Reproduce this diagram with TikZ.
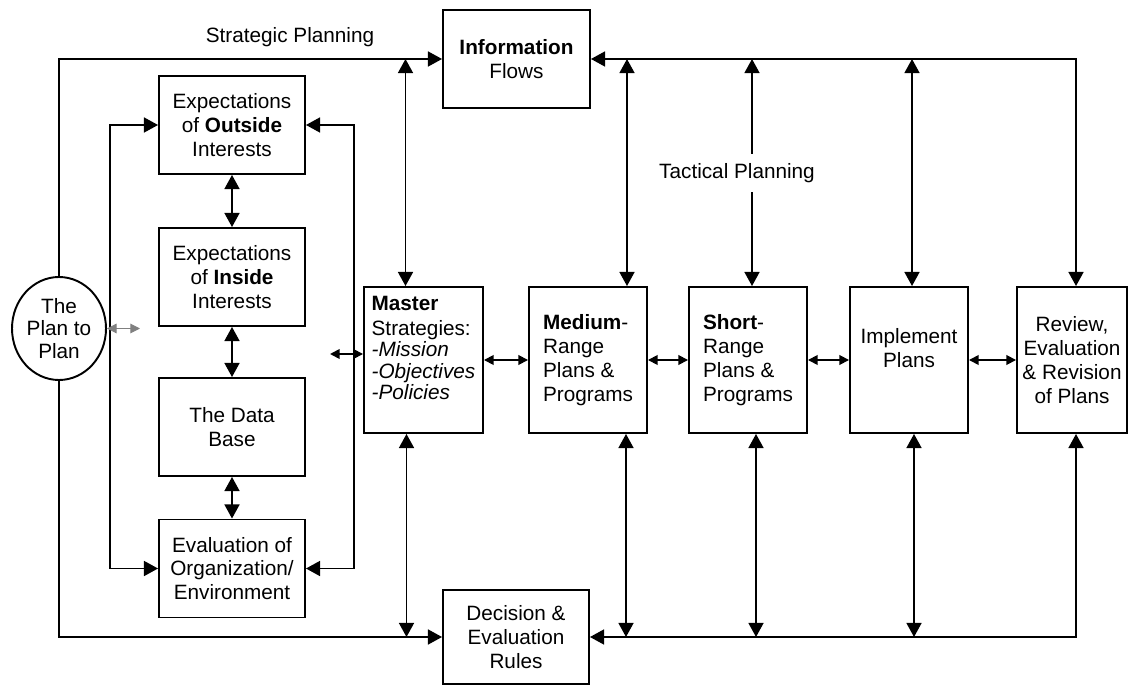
\documentclass[tikz,border=0pt]{standalone}
\usepackage{fontspec}
\setmainfont{Liberation Sans}
\usetikzlibrary{arrows.meta,shapes.geometric}
\newcommand{\pxu}{0.02cm}
\tikzset{
  bigtri/.tip={Triangle[length=8pt,width=8.5pt]},
  smalltri/.tip={Triangle[length=5.5pt,width=5.5pt]},
  box/.style={draw,line width=1.1pt,inner sep=3pt,align=center},
  leftbox/.style={box,minimum width=146*\pxu,minimum height=98*\pxu},
  rowbox/.style={box,minimum width=118*\pxu,minimum height=146*\pxu},
  every node/.style={font=\fontsize{11.8pt}{13.6pt}\selectfont},
}

\begin{document}
\begin{tikzpicture}[x=\pxu,y=-\pxu,line width=1pt]
\useasboundingbox (0,0) rectangle (1128,685);
% left column
\node[leftbox] (outside) at (232,125) {Expectations\\of \textbf{Outside}\\Interests};
\node[leftbox] (inside) at (232,277) {Expectations\\of \textbf{Inside}\\Interests};
\node[leftbox] (database) at (232,427) {The Data\\Base};
\node[leftbox] (evalorg) at (232,568.5) {Evaluation of\\Organization/\\Environment};
\node[draw,ellipse,line width=1.1pt,inner sep=0pt,align=center,
      minimum width=94*\pxu,minimum height=103*\pxu] (plan) at (59,328.5)
      {The\\[-1pt]Plan to\\[-1pt]Plan};
% top and bottom
\node[box,minimum width=147*\pxu,minimum height=98*\pxu] (info) at (516.5,59)
      {\textbf{Information}\\Flows};
\node[box,minimum width=146*\pxu,minimum height=94*\pxu] (decision) at (516,637)
      {Decision \&\\Evaluation\\Rules};
% row of plans
\node[rowbox,align=left,minimum width=119*\pxu] (master) at (423.5,360)
      {\textbf{Master}\\[0.5pt]Strategies:\\[-1.5pt]\textit{-Mission}\\[-1.5pt]%
       \textit{-Objectives}\\[-1.5pt]\textit{-Policies}\\\mbox{}};
\node[rowbox,align=left] (medium) at (588,360)
      {\textbf{Medium}-\\Range\\Plans \&\\Programs};
\node[rowbox,align=left] (short) at (748,360)
      {\textbf{Short}-\\Range\\Plans \&\\Programs};
\node[rowbox] (implement) at (909,360) {Implement\\Plans\\\mbox{}};
\node[rowbox,minimum width=110*\pxu] (review) at (1072,360)
      {Review,\\Evaluation\\\& Revision\\of Plans};
\node (strat) at (290,37) {Strategic Planning};
\coordinate (planpt) at (140,328.5);
\coordinate (masterpt) at (330,354);
%
\draw[bigtri-bigtri] (outside) -- (inside);
\draw[bigtri-bigtri] (inside) -- (database);
\draw[bigtri-bigtri] (database) -- (evalorg);
\draw[bigtri-bigtri] (outside.west) -- ++(-48,0) |- (evalorg.west);
\draw[bigtri-bigtri] (outside.east) -- ++(48,0) |- (evalorg.east);
\draw[gray,line width=0.6pt,smalltri-smalltri] (plan.east) -- (planpt);
\draw[smalltri-smalltri] (masterpt) -- (master.west |- masterpt);
%
\draw[smalltri-smalltri] (master) -- (medium);
\draw[smalltri-smalltri] (medium) -- (short);
\draw[smalltri-smalltri] (short) -- (implement);
\draw[smalltri-smalltri] (implement) -- (review);
%
\draw[-bigtri] (plan.north) |- (info.west);
\draw[bigtri-bigtri] (info.east) -| ([xshift=4*\pxu]review.north);
\draw[bigtri-bigtri] ([xshift=-18*\pxu]master.north) -- ([xshift=-18*\pxu]master.north |- info.west);
\draw[bigtri-bigtri] ([xshift=39*\pxu]medium.north) -- ([xshift=39*\pxu]medium.north |- info.east);
\draw[bigtri-bigtri] ([xshift=4*\pxu]short.north) -- ([xshift=4*\pxu]short.north |- info.east);
\draw[bigtri-bigtri] ([xshift=3*\pxu]implement.north) -- ([xshift=3*\pxu]implement.north |- info.east);
%
\draw[-bigtri] (plan.south) |- (decision.west);
\draw[bigtri-bigtri] (decision.east) -| ([xshift=4*\pxu]review.south);
\draw[bigtri-bigtri] ([xshift=-17*\pxu]master.south) -- ([xshift=-17*\pxu]master.south |- decision.west);
\draw[bigtri-bigtri] ([xshift=38*\pxu]medium.south) -- ([xshift=38*\pxu]medium.south |- decision.east);
\draw[bigtri-bigtri] ([xshift=8*\pxu]short.south) -- ([xshift=8*\pxu]short.south |- decision.east);
\draw[bigtri-bigtri] ([xshift=5*\pxu]implement.south) -- ([xshift=5*\pxu]implement.south |- decision.east);
%
\node[fill=white,inner xsep=2pt,inner ysep=5.5pt] (tact) at (737,173) {Tactical Planning};
\end{tikzpicture}
\end{document}
